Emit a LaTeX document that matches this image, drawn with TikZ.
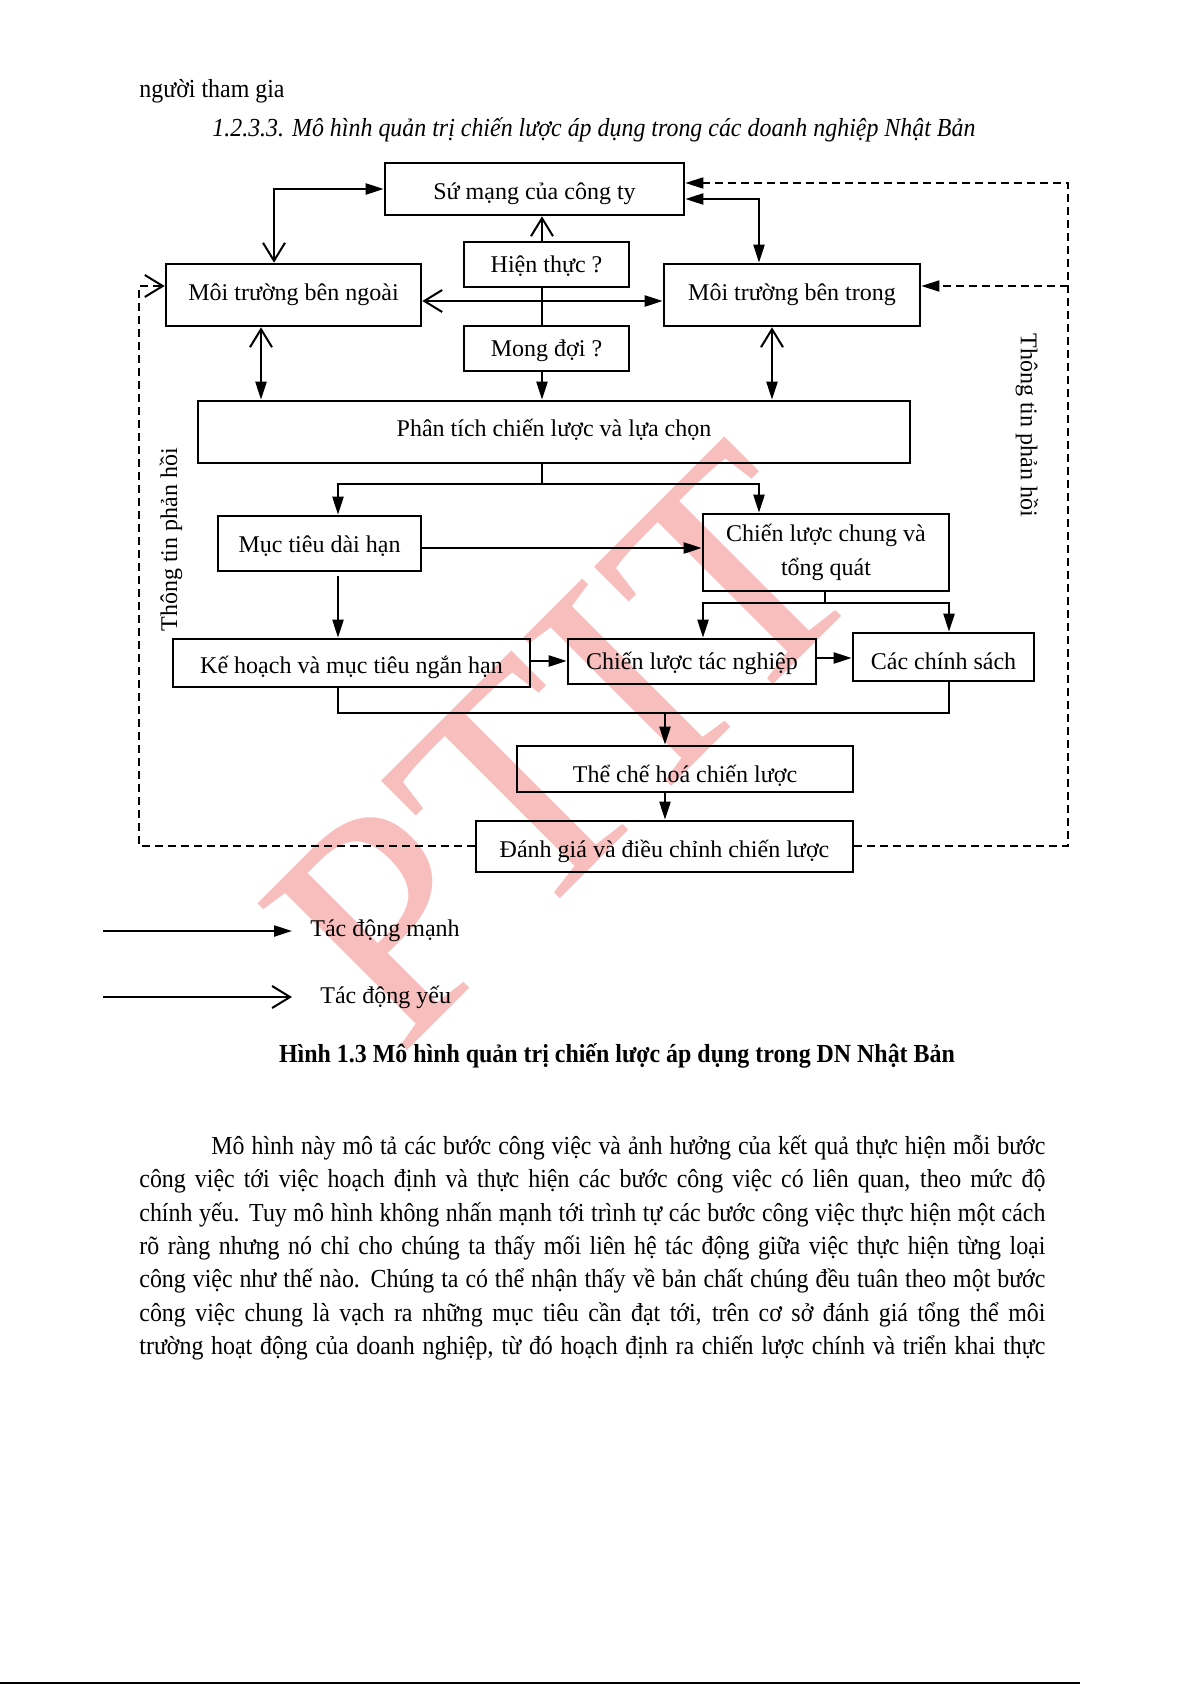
\documentclass[tikz,border=0pt]{standalone}
\usepackage{fontspec}
\setmainfont{Liberation Serif}
\newfontfamily\pagefont[FakeStretch=0.92]{Liberation Serif}
\usetikzlibrary{arrows.meta,calc}
\definecolor{wmcol}{RGB}{248,190,190}
\tikzset{
  st/.tip={Triangle[length=9pt,width=5.5pt]},
  wk/.tip={Straight Barb[length=9pt,width=11pt,line width=1pt]},
}
\begin{document}
\begin{tikzpicture}[x=0.5pt,y=-0.5pt,
  box/.style={draw, line width=1.3pt, inner xsep=1pt, inner ysep=1pt, align=center, font=\fontsize{12}{16.7}\selectfont},
  conn/.style={line width=1.1pt},
  thinline/.style={line width=0.6pt},
  fbline/.style={line width=0.9pt, dash pattern=on 4pt off 2.5pt},
  lbl/.style={inner sep=0pt, font=\fontsize{12}{14}\selectfont},
  bodytxt/.style={inner sep=0pt, anchor=west, font=\pagefont\fontsize{13}{16}\selectfont},
  wmark/.style={inner sep=0pt, text=wmcol, font=\fontsize{160}{160}\selectfont},
]
\fill[white] (0,0) rectangle (1192,1685);
\useasboundingbox (0,0) rectangle (1192,1685);

% watermark
\node[wmark, rotate=45] (wm) at (564,746) {PTIT};

% header
\node[bodytxt] (hdr1) at (139,91) {người tham gia};
\node[bodytxt, font=\pagefont\fontsize{13}{16}\selectfont\itshape] (hdr2) at (212,130) {1.2.3.3. Mô hình quản trị chiến lược áp dụng trong các doanh nghiệp Nhật Bản};

% boxes
\node[box, minimum width=149.5pt, minimum height=26pt, text height=17.5pt, text depth=6.5pt] (sumang) at (534.5,189) {Sứ mạng của công ty};
\node[box, minimum width=82.5pt, minimum height=22.5pt, text height=14pt, text depth=6.5pt] (hienthuc) at (546.5,264.5) {Hiện thực ?};
\node[box, minimum width=127.5pt, minimum height=31pt, text height=17pt, text depth=12pt] (ngoai) at (293.5,295) {Môi trường bên ngoài};
\node[box, minimum width=128pt, minimum height=31pt, text height=17pt, text depth=12pt] (trong) at (792,295) {Môi trường bên trong};
\node[box, minimum width=82.5pt, minimum height=22.5pt, text height=14pt, text depth=6.5pt] (mongdoi) at (546.5,348.5) {Mong đợi ?};
\node[box, minimum width=356pt, minimum height=31pt, text height=16.5pt, text depth=12.5pt] (phantich) at (554,432) {Phân tích chiến lược và lựa chọn};
\node[box, minimum width=101.5pt, minimum height=27.5pt, text height=17pt, text depth=8.5pt] (muctieu) at (319.5,543.5) {Mục tiêu dài hạn};
\node[box, minimum width=123pt, minimum height=38.5pt, font=\fontsize{12}{17.3}\selectfont] (chung) at (826,552.5) {Chiến lược chung và\\tổng quát};
\node[box, minimum width=178.5pt, minimum height=24pt, text height=16pt, text depth=6pt] (kehoach) at (351.5,663) {Kế hoạch và mục tiêu ngắn hạn};
\node[box, minimum width=124pt, minimum height=22.5pt, text height=14pt, text depth=6.5pt] (tacnghiep) at (692,661.5) {Chiến lược tác nghiệp};
\node[box, minimum width=90.5pt, minimum height=24pt, text height=17pt, text depth=5pt] (chinhsach) at (943.5,657) {Các chính sách};
\node[box, minimum width=168pt, minimum height=23pt, text height=17pt, text depth=4pt] (theche) at (685,769) {Thể chế hoá chiến lược};
\node[box, minimum width=188.5pt, minimum height=25.5pt, text height=17pt, text depth=6.5pt] (danhgia) at (664.5,846.5) {Đánh giá và điều chỉnh chiến lược};

% side labels
\node[lbl, rotate=90] (fbl) at (171,540) {Thông tin phản hồi};
\node[lbl, rotate=-90] (fbr) at (1027,425) {Thông tin phản hồi};

% connectors top
\draw[conn, wk-st] (274,0 |- ngoai.north) |- (sumang.west);
\draw[conn, st-st] (sumang.east |- 0,199) -| (759,0 |- trong.north);
\draw[conn, -wk] (542,0 |- hienthuc.north) -- (542,0 |- sumang.south);
\draw[conn] (542,0 |- hienthuc.south) -- (542,0 |- mongdoi.north);
\draw[conn, wk-st] (ngoai.east |- 0,301) -- (trong.west |- 0,301);
\draw[conn, -st] (542,0 |- mongdoi.south) -- (542,0 |- phantich.north);
\draw[conn, wk-st] (261,0 |- ngoai.south) -- (261,0 |- phantich.north);
\draw[conn, wk-st] (772,0 |- trong.south) -- (772,0 |- phantich.north);

% feedback dashed
\coordinate (rtop) at (1068,183);
\coordinate (rmid) at (1068,286);
\coordinate (rbot) at (1068,846);
\coordinate (lbot) at (139,846);
\coordinate (lmid) at (139,286);
\draw[fbline, -st] (danhgia.east |- rbot) -- (rbot) -- (rtop) -- (sumang.east |- rtop);
\draw[fbline, -st] (rmid) -- (trong.east |- rmid);
\draw[fbline, -wk] (danhgia.west |- lbot) -- (lbot) -- (lmid) -- (ngoai.west |- lmid);

% split below analysis
\coordinate (sp) at (542,484);
\draw[thinline] (542,0 |- phantich.south) -- (sp);
\draw[conn, -st] (sp) -| (338,0 |- muctieu.north);
\draw[conn, -st] (sp) -| (759,0 |- chung.north);
\draw[conn, -st] (muctieu.east |- 0,548) -- (chung.west |- 0,548);
\draw[conn, -st] ([yshift=-2pt]338,0 |- muctieu.south) -- (338,0 |- kehoach.north);

% split below general strategy
\coordinate (sp2) at (825,603);
\draw[conn] (825,0 |- chung.south) -- (sp2);
\draw[conn, -st] (sp2) -| (703,0 |- tacnghiep.north);
\draw[conn, -st] (sp2) -| (949,0 |- chinhsach.north);
\draw[conn, -st] (kehoach.east |- 0,661) -- (tacnghiep.west |- 0,661);
\draw[conn, -st] (tacnghiep.east |- 0,658) -- (chinhsach.west |- 0,658);

% merge
\coordinate (mg) at (665,713);
\draw[conn] (338,0 |- kehoach.south) |- (949,713) -- (949,0 |- chinhsach.south);
\draw[conn, -st] (mg) -- (theche.north -| mg);
\draw[conn, -st] (theche.south -| mg) -- (danhgia.north -| mg);

% legend
\coordinate (la1) at (103,931);
\node[lbl, anchor=west, inner xsep=9pt] (leg1) at (292,931) {Tác động mạnh};
\draw[conn, -st] (la1) -- (leg1.west);
\coordinate (la2) at (103,997);
\node[lbl, anchor=west, inner xsep=14pt] (leg2) at (292,997) {Tác động yếu};
\draw[conn, -wk] (la2) -- (leg2.west);

% caption
\node[inner sep=0pt, font=\pagefont\fontsize{13}{16}\selectfont\bfseries] (cap) at (617,1056) {Hình 1.3 Mô hình quản trị chiến lược áp dụng trong DN Nhật Bản};

% body
\node[bodytxt] (b1) at (211,1148) {\makebox[417pt][s]{Mô hình này mô tả các bước công việc và ảnh hưởng của kết quả thực hiện mỗi bước}};
\node[bodytxt] (b2) at (139,1181) {\makebox[453pt][s]{công việc tới việc hoạch định và thực hiện các bước công việc có liên quan, theo mức độ}};
\node[bodytxt] (b3) at (139,1215) {\makebox[453pt][s]{chính yếu. Tuy mô hình không nhấn mạnh tới trình tự các bước công việc thực hiện một cách}};
\node[bodytxt] (b4) at (139,1248) {\makebox[453pt][s]{rõ ràng nhưng nó chỉ cho chúng ta thấy mối liên hệ tác động giữa việc thực hiện từng loại}};
\node[bodytxt] (b5) at (139,1281) {\makebox[453pt][s]{công việc như thế nào. Chúng ta có thể nhận thấy về bản chất chúng đều tuân theo một bước}};
\node[bodytxt] (b6) at (139,1315) {\makebox[453pt][s]{công việc chung là vạch ra những mục tiêu cần đạt tới, trên cơ sở đánh giá tổng thể môi}};
\node[bodytxt] (b7) at (139,1348) {\makebox[453pt][s]{trường hoạt động của doanh nghiệp, từ đó hoạch định ra chiến lược chính và triển khai thực}};

% page bottom rule
\draw[line width=1pt] (0,1683) -- (1080,1683);
\end{tikzpicture}
\end{document}
